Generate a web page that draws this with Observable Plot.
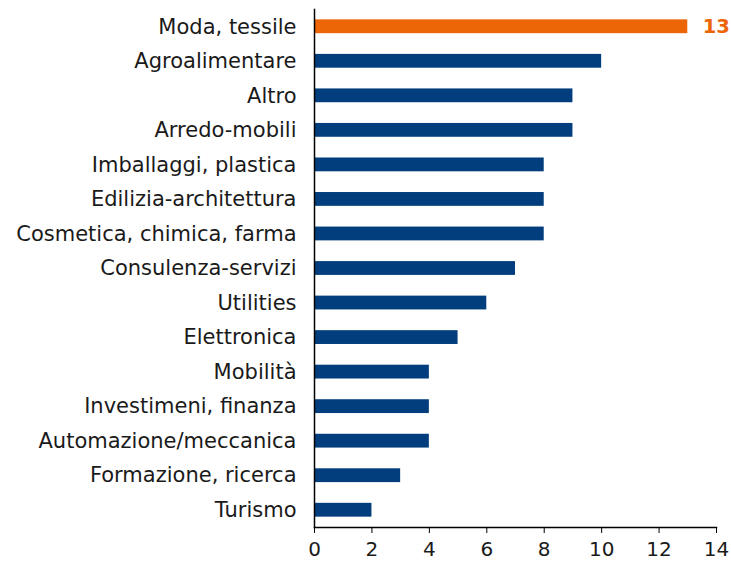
<!DOCTYPE html>
<html><head><meta charset="utf-8">
<script src="https://cdn.jsdelivr.net/npm/d3@7"></script>
<script src="https://cdn.jsdelivr.net/npm/@observablehq/plot@0.6"></script>
<style>body{margin:0;background:#fff;} svg{display:block;}</style>
</head><body><div id="chart"></div>
<script>
const categories = ["Moda, tessile","Agroalimentare","Altro","Arredo-mobili","Imballaggi, plastica","Edilizia-architettura","Cosmetica, chimica, farma","Consulenza-servizi","Utilities","Elettronica","Mobilità","Investimeni, finanza","Automazione/meccanica","Formazione, ricerca","Turismo"];
const values = [13,10,9,9,8,8,8,7,6,5,4,4,4,3,2];
const highlight = "Moda, tessile";
const xTicks = [0,2,4,6,8,10,12,14];

const data = categories.map((c,i)=>({cat:c, value:values[i], hi:c===highlight}));

const chart = Plot.plot({
  width: 731, height: 564,
  marginTop: 9, marginBottom: 37, marginLeft: 314, marginRight: 15,
  style: {fontFamily: "DejaVu Sans", fontSize: "17px", color: "#1a1a1a", background: "#fff"},
  x: {domain: [0,14], ticks: xTicks, label: null},
  y: {domain: categories, label: null, paddingInner: 0.6, paddingOuter: 0.3, round: false},
  marks: [
    Plot.barX(data, {x: "value", y: "cat", fill: d => d.hi ? "#EC6608" : "#023E7D"}),
    Plot.text(data.filter(d=>d.hi), {x: "value", y: "cat", text: d => String(d.value), textAnchor: "start", dx: 15, fill: "#EC6608", fontWeight: "bold", fontSize: 19.5}),
    Plot.frame({anchor: "left", stroke: "#000", strokeWidth: 1.5}),
    Plot.frame({anchor: "bottom", stroke: "#000", strokeWidth: 1.5}),
    Plot.axisX({ticks: xTicks, tickSize: 6, tickPadding: 8, fontSize: 20, label: null, stroke: "#000"}),
    Plot.axisY({tickSize: 0, tickPadding: 18, fontSize: 21, label: null})
  ]
});
document.getElementById("chart").append(chart);
</script></body></html>
